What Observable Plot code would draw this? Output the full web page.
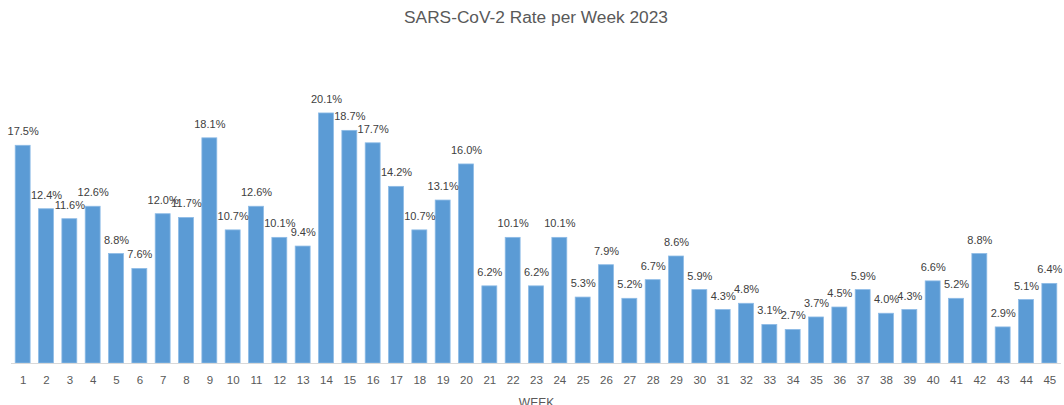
<!DOCTYPE html>
<html>
<head>
<meta charset="utf-8">
<script src="https://cdn.jsdelivr.net/npm/d3@7"></script>
<script src="https://cdn.jsdelivr.net/npm/@observablehq/plot@0.6"></script>
<style>
  html, body { margin: 0; padding: 0; background: #fff; }
  #title { height: 34px; line-height: 34px; text-align: center; font-family: "Liberation Sans", Arial, sans-serif; font-size: 17.3px; color: #595959; width: 1064px; padding-left: 8px; box-sizing: border-box; }
  #chart svg { display: block; }
</style>
</head>
<body>
<div id="title">SARS-CoV-2 Rate per Week 2023</div>
<div id="chart"></div>
<script>
const weeks = [1,2,3,4,5,6,7,8,9,10,11,12,13,14,15,16,17,18,19,20,21,22,23,24,25,26,27,28,29,30,31,32,33,34,35,36,37,38,39,40,41,42,43,44,45];
const rates = [17.5,12.4,11.6,12.6,8.8,7.6,12.0,11.7,18.1,10.7,12.6,10.1,9.4,20.1,18.7,17.7,14.2,10.7,13.1,16.0,6.2,10.1,6.2,10.1,5.3,7.9,5.2,6.7,8.6,5.9,4.3,4.8,3.1,2.7,3.7,4.5,5.9,4.0,4.3,6.6,5.2,8.8,2.9,5.1,6.4];
const xLabel = "WEEK";

const data = weeks.map((w, i) => ({week: w, rate: rates[i]}));

const chart = Plot.plot({
  width: 1064,
  height: 371,
  marginLeft: 11,
  marginRight: 3,
  marginTop: 18,
  marginBottom: 42,
  style: {fontFamily: "'Liberation Sans', Arial, sans-serif", background: "#fff"},
  x: {type: "band", domain: weeks, paddingInner: 0.36, paddingOuter: 0.18, round: false, label: null},
  y: {domain: [0, 25], axis: null},
  marks: [
    Plot.barY(data, {x: "week", y: "rate", fill: "#5B9BD5", stroke: "#8dbbe6", strokeWidth: 0.8}),
    Plot.ruleY([0], {stroke: "#d9d9d9", strokeWidth: 1}),
    Plot.text(data, {x: "week", y: "rate", text: d => d.rate.toFixed(1) + "%", dy: -14, fontSize: 11, fill: "#404040"}),
    Plot.axisX({tickSize: 0, tickPadding: 12, fontSize: 11.5, fill: "#595959", label: null}),
    Plot.text([xLabel], {frameAnchor: "bottom", dy: 43, fontSize: 12, fill: "#595959"})
  ]
});
document.getElementById("chart").appendChild(chart);
</script>
</body>
</html>
